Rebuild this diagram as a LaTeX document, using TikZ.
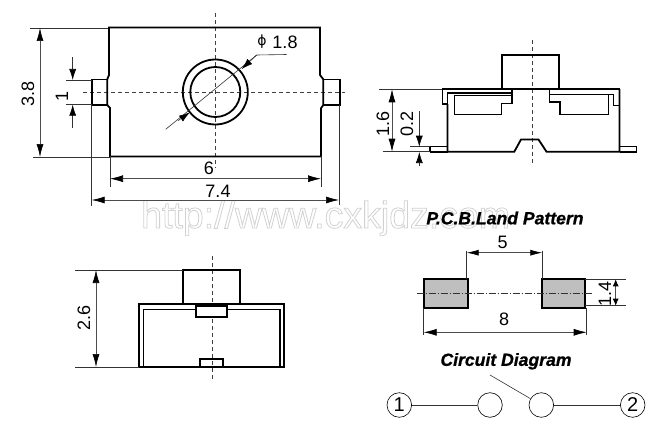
\documentclass[tikz,border=0pt]{standalone}
\usepackage{fontspec}
\usetikzlibrary{arrows.meta}
\setmainfont{Liberation Sans}
\newfontfamily\headfont[BoldItalicFeatures={FakeBold=0.8}]{Liberation Sans}
\newfontfamily\phifont{DejaVu Sans}
\tikzset{
    outline/.style={line width=1.8pt,line join=miter},
    innerline/.style={line width=1.3pt,line join=miter},
    thinline/.style={line width=0.6pt,black!80},
    centerline/.style={line width=0.6pt,dashed,dash pattern=on 4pt off 3pt,black!75},
    dimline/.style={line width=0.7pt,black!70,{Latex[length=13pt,width=7pt,black]}-{Latex[length=13pt,width=7pt,black]}},
    leader/.style={line width=0.6pt,black!80,-{Latex[length=11pt,width=7pt,black]}},
    dimlabel/.style={font=\fontsize{18}{18}\selectfont,inner sep=0pt},
    heading/.style={font=\fontsize{17.6}{18}\headfont\bfseries\itshape,inner sep=0pt},
    pin/.style={circle,draw,line width=0.6pt,minimum size=24.6pt,inner sep=0pt,font=\fontsize{20}{20}\selectfont},
}
\begin{document}
\begin{tikzpicture}[x=1pt,y=-1pt]
    \useasboundingbox (0,0) rectangle (664,436);
    % watermark
    \node[inner sep=0pt,anchor=base west,font=\fontsize{37.5}{37.5}\selectfont] at (141,228)
        {\special{pdf:code q 1 Tr 0.8 w 0.82 G}http://www.cxkjdz.com\special{pdf:code Q}};
    % top view
    \draw[centerline] (83,92) -- (345,92);
    \draw[centerline] (215.3,13) -- (215.3,168);
    \draw[outline] (109,27.5) -- (320,27.5) -- (320,75) -- (323.3,79.3) -- (323.3,105) -- (321,108.3) -- (321,156.5) -- (110,156.5)
        -- (110,108) -- (107.3,105) -- (107.3,79.3) -- (109,75) -- cycle;
    \draw[outline] (107.3,79.5) -- (91.7,79.5) -- (91.7,105) -- (107.3,105);
    \draw[outline] (323.3,79.5) -- (340,79.5) -- (340,105) -- (323.3,105);
    \draw[outline] (215.3,92) circle (32.5);
    \draw[outline] (215.3,92) circle (25);
    \draw[thinline] (165.7,129.3) -- (256.7,55) -- (286.7,54.5);
    \draw[leader] (256.7,55) -- (241.7,69);
    \draw[leader] (178,120.7) -- (190,112.3);
    \node[dimlabel,font=\fontsize{14}{14}\phifont] at (262,42) {ϕ};
    \node[dimlabel] at (285,42) {1.8};
    \draw[dimline] (40,28) -- (40,157);
    \draw[thinline] (30,28) -- (108,28);
    \draw[thinline] (33,157) -- (110,157);
    \node[dimlabel,rotate=90] at (28,94) {3.8};
    \draw[thinline] (66,80) -- (92,80);
    \draw[thinline] (66,104.7) -- (92,104.7);
    \draw[leader] (72.7,57.3) -- (72.7,80);
    \draw[leader] (72.7,128) -- (72.7,104.7);
    \node[dimlabel,rotate=90] at (62,96) {1};
    \draw[dimline] (110,178.7) -- (321,178.7);
    \draw[thinline] (110,156) -- (110,186.7);
    \draw[thinline] (321,156) -- (321,186.7);
    \node[dimlabel] at (209,168.7) {6};
    \draw[dimline] (91.7,200) -- (339,200);
    \draw[thinline] (91.7,105) -- (91.7,206);
    \draw[thinline] (339,105) -- (339,205);
    \node[dimlabel] at (218,191.7) {7.4};
    % side view
    \draw[centerline] (532,40) -- (532,165);
    \draw[outline] (502.3,89) -- (502.3,55) -- (559.3,55) -- (559.3,89);
    \draw[innerline] (512,93) -- (447.5,93) -- (447.5,151.7);
    \draw[outline] (447.5,104) -- (447.5,151.7) -- (514.3,151.7) -- (521,139.5) -- (538.5,139.5) -- (546.5,151.7) -- (619.5,151.7) -- (619.5,89);
    \draw[outline] (447.5,104.3) -- (442.5,104.3) -- (442.5,88.9) -- (620.4,88.9);
    \draw[innerline] (512,88.9) -- (512,103.8) -- (501.3,103.8) -- (501.3,114.5) -- (454.7,114.5) -- (454.7,95.3) -- (512,95.3);
    \draw[innerline] (549.3,88.9) -- (549.3,102) -- (560,102) -- (560,114.5) -- (608.3,114.5) -- (608.3,94.7);
    \draw[innerline] (549.3,94.7) -- (613.3,94.7) -- (613.3,105.3) -- (619.5,105.3);
    \draw[innerline] (430,151.7) -- (430,146.7) -- (447.5,146.7);
    \draw[outline] (430,151.7) -- (447.5,151.7);
    \draw[innerline] (619.5,146.7) -- (636.7,146.7) -- (636.7,151.7);
    \draw[outline] (619.5,151.7) -- (637.3,151.7);
    \draw[dimline] (392,89.3) -- (392,151.7);
    \draw[thinline] (379.3,89.3) -- (442,89.3);
    \draw[thinline] (382.7,151.7) -- (430,151.7);
    \node[dimlabel,rotate=90] at (383,124) {1.6};
    \draw[thinline] (410,146.7) -- (430,146.7);
    \draw[leader] (419.3,111) -- (419.3,146.7);
    \draw[leader] (419.3,166) -- (419.3,152);
    \node[dimlabel,rotate=90] at (407,124) {0.2};
    % front view
    \draw[centerline] (212.7,256) -- (212.7,381.7);
    \draw[outline] (183,304) -- (183,270) -- (240,270) -- (240,304);
    \draw[outline] (139.3,304.3) rectangle (284,366.7);
    \draw[innerline] (143.3,366.7) -- (143.3,309.3) -- (280,309.3) -- (280,366.7);
    \draw[outline,fill=white] (196.3,306) rectangle (227.3,316.7);
    \draw[outline] (200,366.7) -- (200,359) -- (223.3,359) -- (223.3,366.7);
    \draw[dimline] (96,270) -- (96,367);
    \draw[thinline] (75,270) -- (183,270);
    \draw[thinline] (75,367) -- (139,367);
    \node[dimlabel,rotate=90] at (84,318) {2.6};
    % land pattern
    \node[heading] at (505,218) {P.C.B.Land Pattern};
    \draw[outline,fill=black!25] (423.7,279) rectangle (467.7,307.7);
    \draw[outline,fill=black!25] (542,279) rectangle (585.3,307.7);
    \draw[thinline,dash pattern=on 7pt off 2pt on 1pt off 2pt] (416.7,293.3) -- (591.7,293.3);
    \draw[dimline,{Latex[length=12pt,width=6pt,black]}-{Latex[length=12pt,width=6pt,black]}] (466.7,252.7) -- (542.3,252.7);
    \draw[thinline] (466.7,250.7) -- (466.7,279);
    \draw[thinline] (542.3,250.7) -- (542.3,279);
    \node[dimlabel] at (502.7,242.7) {5};
    \draw[dimline] (423.7,332.3) -- (586.7,332.3);
    \draw[thinline] (423.7,307.7) -- (423.7,335);
    \draw[thinline] (586.7,307.7) -- (586.7,335);
    \node[dimlabel] at (504,319) {8};
    \draw[dimline,{Latex[length=7pt,width=6pt,black]}-{Latex[length=7pt,width=6pt,black]}] (615.7,279.3) -- (615.7,305.7);
    \draw[thinline] (585,279.3) -- (626,279.3);
    \draw[thinline] (585,305.7) -- (626,305.7);
    \node[dimlabel,rotate=90] at (605,294) {1.4};
    % circuit
    \node[heading] at (506,361.3) {Circuit Diagram};
    \node[pin] (pinA) at (399.3,405) {1};
    \node[pin] (contactA) at (490,405) {};
    \node[pin] (contactB) at (541.3,405) {};
    \node[pin] (pinB) at (632.7,405) {2};
    \coordinate (lever) at (490,375);
    \draw[thinline] (pinA) -- (contactA);
    \draw[thinline] (contactB) -- (pinB);
    \draw[thinline] (lever) -- (contactB);
\end{tikzpicture}
\end{document}
